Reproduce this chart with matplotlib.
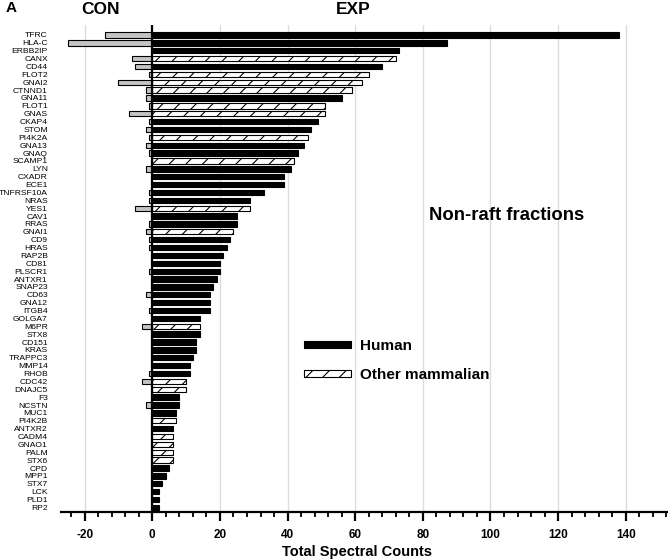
import numpy as np
import matplotlib
matplotlib.use('Agg')
from matplotlib import pyplot as plt
from matplotlib import font_manager
from matplotlib.ticker import MultipleLocator

genes = ['TFRC', 'HLA-C', 'ERBB2IP', 'CANX', 'CD44', 'FLOT2', 'GNAI2', 'CTNND1',
         'GNA11', 'FLOT1', 'GNAS', 'CKAP4', 'STOM', 'PI4K2A', 'GNA13', 'GNAQ',
         'SCAMP1', 'LYN', 'CXADR', 'ECE1', 'TNFRSF10A', 'NRAS', 'YES1', 'CAV1',
         'RRAS', 'GNAI1', 'CD9', 'HRAS', 'RAP2B', 'CD81', 'PLSCR1', 'ANTXR1',
         'SNAP23', 'CD63', 'GNA12', 'ITGB4', 'GOLGA7', 'M6PR', 'STX8', 'CD151',
         'KRAS', 'TRAPPC3', 'MMP14', 'RHOB', 'CDC42', 'DNAJC5', 'F3', 'NCSTN',
         'MUC1', 'PI4K2B', 'ANTXR2', 'CADM4', 'GNAO1', 'PALM', 'STX6', 'CPD',
         'MPP1', 'STX7', 'LCK', 'PLD1', 'RP2']

exp = [138, 87, 73, 72, 68, 64, 62, 59,
       56, 51, 51, 49, 47, 46, 45, 43,
       42, 41, 39, 39, 33, 29, 29, 25,
       25, 24, 23, 22, 21, 20, 20, 19,
       18, 17, 17, 17, 14, 14, 14, 13,
       13, 12, 11, 11, 10, 10, 8, 8,
       7, 7, 6, 6, 6, 6, 6, 5,
       4, 3, 2, 2, 2]

con = [-14, -25, 0, -6, -5, -1, -10, -2,
       -2, -1, -7, -1, -2, -1, -2, -1,
       0, -2, 0, 0, -1, -1, -5, 0,
       -1, -2, -1, -1, 0, 0, -1, 0,
       0, -2, 0, -1, 0, -3, 0, 0,
       0, 0, 0, -1, -3, 0, 0, -2,
       0, 0, 0, 0, 0, 0, 0, 0,
       0, 0, 0, 0, 0]

# genes from other mammalian species (hatched bars)
other = ['CANX', 'FLOT2', 'GNAI2', 'CTNND1', 'FLOT1', 'GNAS', 'PI4K2A', 'SCAMP1',
         'YES1', 'GNAI1', 'M6PR', 'CDC42', 'DNAJC5', 'PI4K2B', 'CADM4', 'GNAO1',
         'PALM', 'STX6']

names = {f.name for f in font_manager.fontManager.ttflist}
if 'Liberation Sans Narrow' in names:
    label_font, label_size = 'Liberation Sans Narrow', 7.5
else:
    label_font, label_size = 'Liberation Sans', 6.1

plt.rcParams['font.family'] = ['Liberation Sans', 'DejaVu Sans']
plt.rcParams['hatch.linewidth'] = 0.8
plt.rcParams['axes.unicode_minus'] = False

W, H = 668, 560
fig = plt.figure(figsize=(W / 100, H / 100), dpi=100)
ax = fig.add_axes([61 / W, 1 - 511.7 / H, 607 / W, 486.7 / H])

y = np.arange(len(genes))
exp = np.array(exp)
con = np.array(con)
is_other = np.array([g in other for g in genes])

ax.barh(y[~is_other], exp[~is_other], height=0.68, color='black',
        edgecolor='black', linewidth=0.8, label='Human')
ax.barh(y[is_other], exp[is_other], height=0.68, color='white',
        edgecolor='black', linewidth=0.8, hatch='//', label='Other mammalian')
m = con != 0
ax.barh(y[m], con[m], height=0.68, color='#c4c4c4', edgecolor='black',
        linewidth=0.8)

ax.axvline(0, color='black', lw=1.6, zorder=5)

ax.set_xlim(-27, 152.5)
ax.set_ylim(60.55, -1.27)
ax.set_xticks(range(-20, 141, 20))
ax.xaxis.set_minor_locator(MultipleLocator(4))
ax.grid(axis='x', which='major', color='#dddddd', lw=1)
ax.set_axisbelow(True)

for s in ['top', 'right', 'left']:
    ax.spines[s].set_visible(False)
ax.spines['bottom'].set_linewidth(1.6)

ax.tick_params(axis='x', which='major', length=6.5, width=1.6, pad=6,
               labelsize=8.5)
ax.tick_params(axis='x', which='minor', length=3.5, width=1.3)
for t in ax.get_xticklabels():
    t.set_fontweight('bold')

ax.set_yticks(y)
ax.set_yticklabels(genes, family=label_font, fontsize=label_size)
ax.tick_params(axis='y', length=0, pad=9.5)

ax.legend(loc='upper left', bbox_to_anchor=(304 / W, 1 - 339 / H),
          bbox_transform=fig.transFigure, frameon=False, borderpad=0,
          borderaxespad=0, handlelength=3.07, handleheight=0.33,
          handletextpad=0.6, labelspacing=1.0,
          prop={'weight': 'bold', 'size': 11})

fig.text(11 / W, 1 - 8 / H, 'A', fontsize=11, fontweight='bold',
         ha='center', va='center')
fig.text(101 / W, 1 - 9.5 / H, 'CON', fontsize=12.5, fontweight='bold',
         ha='center', va='center')
fig.text(353 / W, 1 - 9.5 / H, 'EXP', fontsize=12.5, fontweight='bold',
         ha='center', va='center')
fig.text(507 / W, 1 - 216 / H, 'Non-raft fractions', fontsize=13.3,
         fontweight='bold', ha='center', va='center')
fig.text(357 / W, 1 - 552 / H, 'Total Spectral Counts', fontsize=10.5,
         fontweight='bold', ha='center', va='center')

fig.savefig('out.png', dpi=100)
